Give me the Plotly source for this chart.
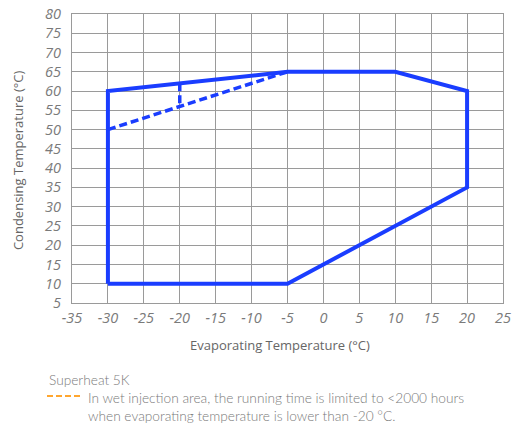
import plotly.graph_objects as go

# Operating envelope (evaporating temp, condensing temp)
envelope_evap = [-30, -30, -5, 10, 20, 20, -5, -30]
envelope_cond = [10, 60, 65, 65, 60, 35, 10, 10]

# Wet injection boundary
wet_evap = [-30, -5]
wet_cond = [50, 65]
wet_split_evap = [-20, -20]
wet_split_cond = [62, 56]

x_ticks = list(range(-35, 30, 5))
y_ticks = list(range(5, 85, 5))

BLUE = "#1a3dff"
GRID = "#9a9a9a"
TEXT = "#7a7a7a"

fig = go.Figure()
fig.add_trace(go.Scatter(x=envelope_evap, y=envelope_cond, mode="lines",
                         line=dict(color=BLUE, width=4), hoverinfo="skip"))
fig.add_trace(go.Scatter(x=wet_evap, y=wet_cond, mode="lines",
                         line=dict(color=BLUE, width=3.5, dash="8px,4px"), hoverinfo="skip"))
fig.add_trace(go.Scatter(x=wet_split_evap, y=wet_split_cond, mode="lines",
                         line=dict(color=BLUE, width=3.5, dash="8px,4px"), hoverinfo="skip"))

axis_common = dict(showgrid=True, gridcolor=GRID, gridwidth=1, zeroline=False,
                   showline=True, linecolor=GRID, linewidth=1, mirror=True,
                   ticks="", automargin=False,
                   tickfont=dict(family="Open Sans", size=14.5, color=TEXT))
fig.update_xaxes(range=[-35, 25], tickvals=x_ticks, ticklabelstandoff=2,
                 ticktext=[f"<i>{v}</i>" for v in x_ticks], **axis_common)
fig.update_yaxes(range=[5, 80], tickvals=y_ticks,
                 ticktext=[f"<i>{v}</i>" for v in y_ticks], ticklabelstandoff=7, **axis_common)

fig.add_annotation(text="Evaporating Temperature (°C)", xref="paper", yref="paper",
                   x=0.483, y=-0.145, showarrow=False, xanchor="center", yanchor="middle",
                   font=dict(family="Open Sans", size=13, color="#666"))
fig.add_annotation(text="Condensing Temperature (°C)", xref="paper", yref="paper",
                   x=-0.125, y=0.495, showarrow=False, textangle=-90,
                   xanchor="center", yanchor="middle",
                   font=dict(family="Open Sans", size=13, color="#666"))

fig.add_annotation(text="Superheat 5K", xref="paper", yref="paper",
                   x=-0.058, y=-0.266, showarrow=False, xanchor="left", yanchor="middle",
                   font=dict(family="Lato", size=13.7, color=TEXT, weight=300))
fig.add_annotation(text="In wet injection area, the running time is limited to <2000 hours<br>"
                        "when evaporating temperature is lower than -20 °C.",
                   xref="paper", yref="paper", x=0.032, y=-0.291, showarrow=False,
                   xanchor="left", yanchor="top", align="left",
                   font=dict(family="Lato", size=13.7, color=TEXT, weight=300))
fig.add_shape(type="line", xref="paper", yref="paper", x0=-0.058, x1=0.023,
              y0=-0.322, y1=-0.322, line=dict(color="#ffa630", width=2, dash="6px,3px"))

fig.update_layout(width=513, height=424, margin=dict(l=72, r=10, t=14, b=121),
                  plot_bgcolor="white", paper_bgcolor="white", showlegend=False)

fig.write_html("out.html")
